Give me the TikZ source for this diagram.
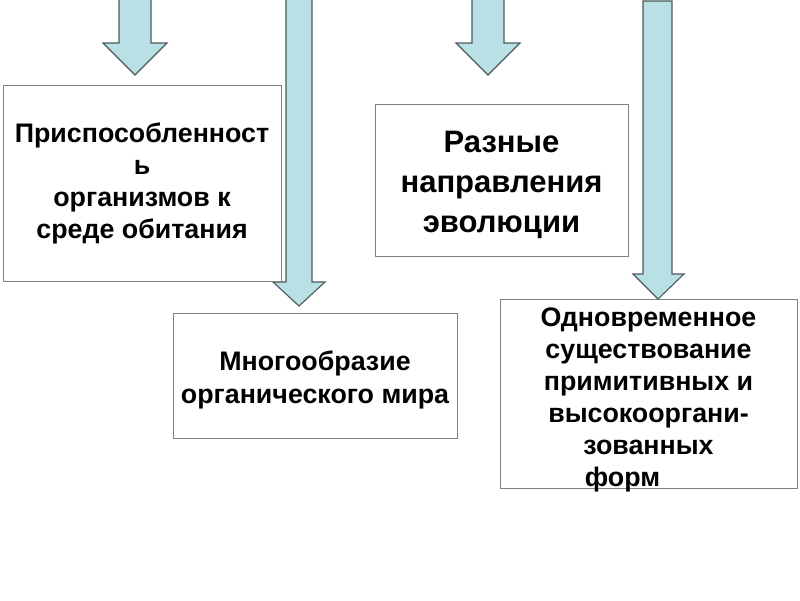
\documentclass[tikz,border=0pt]{standalone}
\usepackage{fontspec}
\setmainfont{Liberation Sans}
\begin{document}
\begin{tikzpicture}[x=1pt,y=-1pt,
  blockarrow/.style={fill=arrowfill,draw=arrowline,line width=1.1pt,line join=miter},
  textbox/.style={draw=boxline,fill=white,line width=1.3pt,inner sep=0pt,anchor=north west},
  boxtext/.style={inner sep=0pt,align=center,font=\bfseries\fontsize{26.8}{32}\selectfont}]
\definecolor{arrowfill}{RGB}{185,224,228}
\definecolor{arrowline}{RGB}{75,90,92}
\definecolor{boxline}{RGB}{128,128,128}
\useasboundingbox (0,0) rectangle (800,600);
% arrows
\draw[blockarrow] (119,-2) -- (151,-2) -- (151,43) -- (167,43) -- (135,75) -- (103,43) -- (119,43) -- cycle;
\draw[blockarrow] (286,-2) -- (312,-2) -- (312,282) -- (325,282) -- (299,306) -- (273,282) -- (286,282) -- cycle;
\draw[blockarrow] (472,-2) -- (504,-2) -- (504,43) -- (520,43) -- (488,75) -- (456,43) -- (472,43) -- cycle;
\draw[blockarrow] (643,1) -- (672,1) -- (672,274) -- (684,274) -- (658,299) -- (633,274) -- (643,274) -- cycle;
% boxes
\node[textbox,minimum width=278pt,minimum height=196pt] (b1) at (3,85) {};
\node[textbox,minimum width=253pt,minimum height=152pt] (b3) at (375,104) {};
\node[textbox,minimum width=284pt,minimum height=125pt] (b2) at (173,313) {};
\node[textbox,minimum width=297pt,minimum height=189pt] (b4) at (500,299) {};
% texts
\node[boxtext] (t1) at (142,183) {Приспособленност\\ь\\организмов к\\среде обитания};
\node[boxtext,font=\bfseries\fontsize{31}{40}\selectfont] (t3) at (501.5,185) {Разные\\направления\\эволюции};
\node[boxtext,font=\bfseries\fontsize{26.8}{33}\selectfont] (t2) at (315,380) {Многообразие\\органического мира};
\node[boxtext] (t4) at (648.5,399.5) {Одновременное\\существование\\примитивных и\\высокооргани-\\зованных\\форм\hspace*{52pt}};
\end{tikzpicture}
\end{document}
